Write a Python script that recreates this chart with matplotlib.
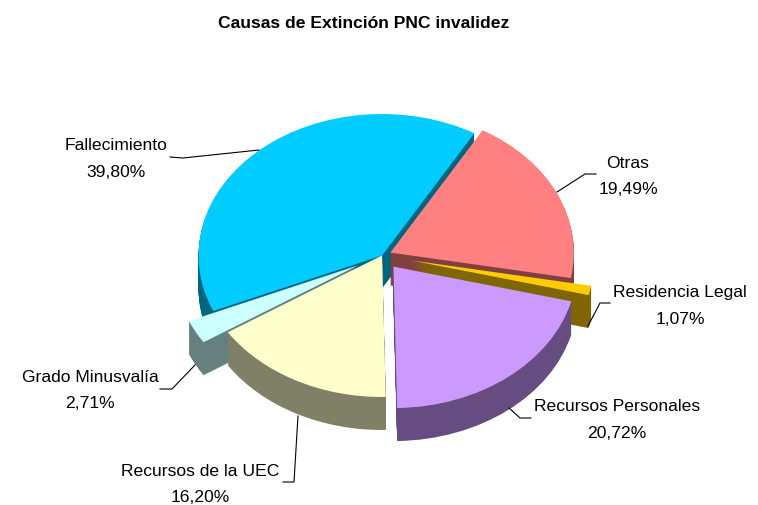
import matplotlib
matplotlib.use("Agg")
import matplotlib.pyplot as plt

plt.rcParams['font.family'] = ['Liberation Sans', 'DejaVu Sans']

W, H = 758, 506
title = "Causas de Extinción PNC invalidez"
categories = ["Fallecimiento", "Grado Minusvalía", "Recursos de la UEC",
              "Recursos Personales", "Residencia Legal", "Otras"]
values = [39.80, 2.71, 16.20, 20.72, 1.07, 19.49]
explode = [0, 0.15, 0, 0.10, 0.16, 0.05]
top_colors = ["#00CCFF", "#CCFFFF", "#FFFFCC", "#CC99FF", "#FFCC00", "#FF8080"]
side_colors = ["#006680", "#668080", "#808066", "#664C80", "#806600", "#804040"]
draw_rank = [0, 2, 3, 5, 4, 1]          # back-to-front order

CX, CY, RX, RY, DEPTH = 382, 256.5, 183.5, 141.5, 33
START = 59.8

label_xy = [(116, 159), (90, 390.5), (200, 484.5), (617, 420), (680, 306), (628, 176.5)]
leaders = [
    [(170, 158), (183, 159), (259, 151)],
    [(160, 390), (172, 390), (195, 366)],
    [(283, 483), (294, 483), (298, 417)],
    [(531, 419), (520, 419), (509, 409)],
    [(610, 304), (600, 304), (588, 327)],
    [(596, 175), (585, 175), (557, 193)],
]

fig = plt.figure(figsize=(W / 100, H / 100), dpi=100, facecolor="white")
ax = fig.add_axes([0, 0, 1, 1])


def px(x, y):
    return (x - CX) / RX, (CY - y) / RY


for step in range(DEPTH + 1):
    colors = top_colors if step == 0 else side_colors
    wedges, _ = ax.pie(values, explode=explode, colors=colors, startangle=START,
                       counterclock=True, center=(0, -step / RY), radius=1,
                       wedgeprops=dict(linewidth=0), normalize=True)
    for w, rank in zip(wedges, draw_rank):
        w.set_zorder(rank * 2 + (2 if step == 0 else 1))

ax.set_aspect("auto")
ax.set_xlim(px(0, 0)[0], px(W, 0)[0])
ax.set_ylim(px(0, H)[1], px(0, 0)[1])
ax.axis("off")

for pts in leaders:
    xs, ys = zip(*[px(*p) for p in pts])
    ax.plot(xs, ys, color="black", lw=0.8, zorder=20, solid_joinstyle="miter")

for cat, val, (lx, ly) in zip(categories, values, label_xy):
    x, y = px(lx, ly)
    ax.text(x, y, f"{cat}\n{val:.2f}%".replace(".", ","), ha="center", va="center",
            fontsize=12.6, linespacing=1.95, color="black", zorder=21)

x, y = px(363.5, 23)
ax.text(x, y, title, ha="center", va="center", fontsize=12.6, fontweight="bold",
        color="black", zorder=21)

fig.savefig("out.png", dpi=100, facecolor="white")
